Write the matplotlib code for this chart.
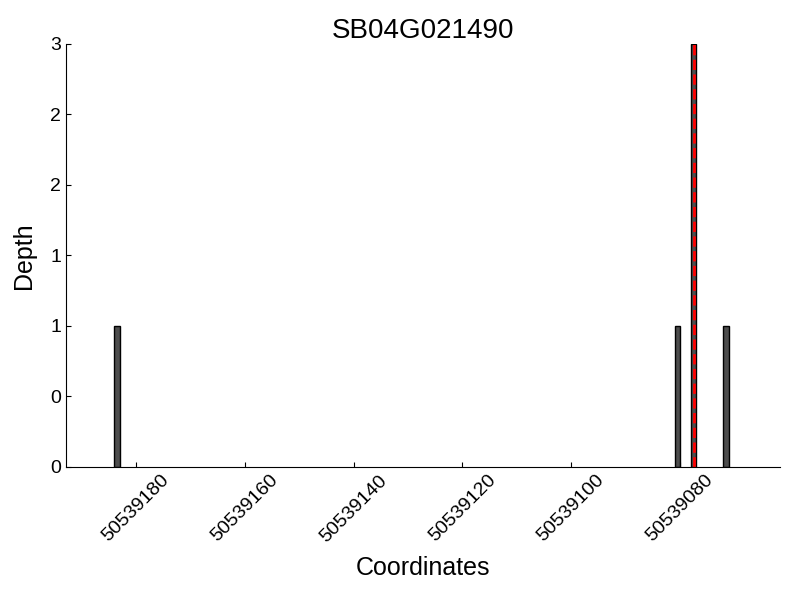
import matplotlib
matplotlib.use('Agg')
import matplotlib.pyplot as plt
from matplotlib.ticker import FormatStrFormatter

plt.rcParams['font.family'] = ['Liberation Sans', 'DejaVu Sans']

# Read-depth data around the gene
gene = 'SB04G021490'
positions = [50539183, 50539080, 50539077, 50539071]
depths = [1, 1, 3, 1]
marker_pos = 50539077.5
xticks = [50539180, 50539160, 50539140, 50539120, 50539100, 50539080]
yticks = [0, 0.5, 1, 1.5, 2, 2.5, 3]

fig = plt.figure(figsize=(8, 6), dpi=100)
ax = fig.add_axes([0.0825, 0.2217, 0.8925, 0.705])

ax.bar(positions, depths, width=1, align='edge', color='#4d4d4d',
       edgecolor='black', linewidth=1)
ax.axvline(marker_pos, color='red', linestyle='--', linewidth=2)

ax.set_xlim(50539192.9, 50539061.6)
ax.set_ylim(0, 3)
ax.set_xticks(xticks)
ax.set_xticklabels([str(t) for t in xticks], rotation=45)
ax.set_yticks(yticks)
ax.yaxis.set_major_formatter(FormatStrFormatter('%d'))
ax.tick_params(direction='in', labelsize=14)

ax.spines['top'].set_visible(False)
ax.spines['right'].set_visible(False)

ax.set_title(gene, fontsize=20, pad=3)
ax.set_xlabel('Coordinates', fontsize=18, labelpad=8)
ax.set_ylabel('Depth', fontsize=18, labelpad=10)

fig.savefig('out.png', dpi=100)
